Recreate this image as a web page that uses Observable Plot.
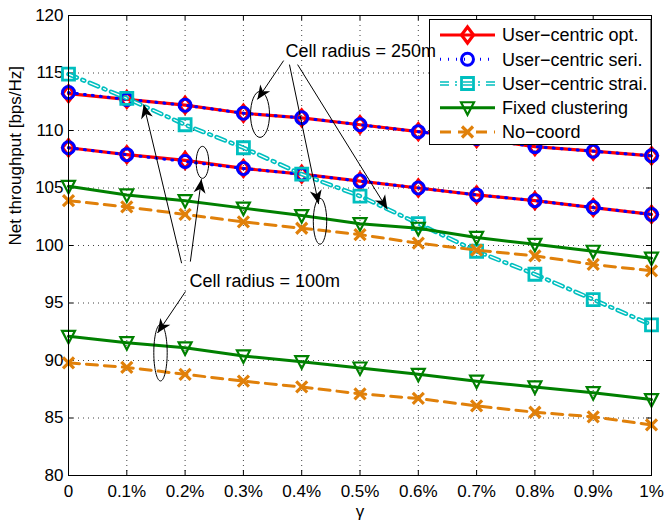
<!DOCTYPE html>
<html><head><meta charset="utf-8">
<script src="https://cdn.jsdelivr.net/npm/d3@7"></script>
<script src="https://cdn.jsdelivr.net/npm/@observablehq/plot@0.6"></script>
<style>body{margin:0;background:#fff} svg{display:block}</style>
</head><body><div id="chart"></div>
<script>
// ---------- data ----------
const gamma = [0, 0.1, 0.2, 0.3, 0.4, 0.5, 0.6, 0.7, 0.8, 0.9, 1];
const gammaLabels = ["0", "0.1%", "0.2%", "0.3%", "0.4%", "0.5%", "0.6%", "0.7%", "0.8%", "0.9%", "1%"];
const yTicks = [80, 85, 90, 95, 100, 105, 110, 115, 120];

const optR250   = [113.2, 112.7, 112.2, 111.5, 111.1, 110.5, 109.9, 109.3, 108.6, 108.2, 107.8];
const optR100   = [108.5, 107.9, 107.4, 106.7, 106.2, 105.6, 105.0, 104.4, 103.9, 103.3, 102.7];
const seriR250  = [113.3, 112.7, 112.2, 111.5, 111.1, 110.5, 109.9, 109.3, 108.6, 108.2, 107.8];
const seriR100  = [108.5, 107.9, 107.3, 106.7, 106.2, 105.6, 105.0, 104.4, 103.9, 103.3, 102.7];
const straiR250 = [114.9, 112.8, 110.5, 108.5, 106.2, 104.3, 101.9, 99.5, 97.5, 95.3, 93.1];
const fixedR250 = [105.15, 104.4, 103.9, 103.25, 102.6, 101.9, 101.5, 100.7, 100.1, 99.5, 98.9];
const fixedR100 = [92.1, 91.55, 91.1, 90.4, 89.9, 89.35, 88.8, 88.2, 87.7, 87.2, 86.6];
const nocoordR250 = [103.9, 103.35, 102.7, 102.05, 101.5, 100.95, 100.2, 99.6, 99.1, 98.35, 97.8];
const nocoordR100 = [89.8, 89.4, 88.8, 88.2, 87.7, 87.1, 86.7, 86.05, 85.5, 85.1, 84.4];

const legendLabels = ["User\u2212centric opt.", "User\u2212centric seri.", "User\u2212centric strai.", "Fixed clustering", "No\u2212coord"];

// annotations (data units)
const label250 = [{x: 0.372, y: 116.93, text: "Cell radius = 250m"}];
const label100 = [{x: 0.2075, y: 96.9, text: "Cell radius = 100m"}];
const arrows250 = [
  {x1: 0.369, y1: 116.08, x2: 0.324, y2: 112.7},
  {x1: 0.379, y1: 115.73, x2: 0.429, y2: 103.6},
  {x1: 0.393, y1: 115.73, x2: 0.547, y2: 103.15}
];
const arrows100 = [
  {x1: 0.194, y1: 98.46, x2: 0.129, y2: 112.27},
  {x1: 0.209, y1: 98.6, x2: 0.228, y2: 105.77},
  {x1: 0.2007, y1: 96.0, x2: 0.1527, y2: 92.39}
];
const ellipses = [
  {cx: 0.3285, cy: 111.40},
  {cx: 0.4314, cy: 102.11},
  {cx: 0.2298, cy: 107.23},
  {cx: 0.1578, cy: 90.68}
];

// ---------- table ----------
const rows = [];
function add(series, radius, vals) { vals.forEach((v, i) => rows.push({gamma: gamma[i], value: v, series, radius})); }
add("opt", 250, optR250); add("opt", 100, optR100);
add("seri", 250, seriR250); add("seri", 100, seriR100);
add("strai", 250, straiR250);
add("fixed", 250, fixedR250); add("fixed", 100, fixedR100);
add("nocoord", 250, nocoordR250); add("nocoord", 100, nocoordR100);
const S = k => rows.filter(d => d.series === k);

// ---------- symbols ----------
const symDiamond = {draw(c) { c.moveTo(0, -8); c.lineTo(6, 0); c.lineTo(0, 8); c.lineTo(-6, 0); c.closePath(); }};
const symSquare = {draw(c) { c.moveTo(-6, -6); c.lineTo(6, -6); c.lineTo(6, 6); c.lineTo(-6, 6); c.closePath(); }};
const symTriDown = {draw(c) { c.moveTo(-6.5, -5.5); c.lineTo(6.5, -5.5); c.lineTo(0, 7); c.closePath(); }};
const symTimes = {draw(c) { c.moveTo(-5.5, -5.5); c.lineTo(5.5, 5.5); c.moveTo(5.5, -5.5); c.lineTo(-5.5, 5.5); }};
const symCircle = {draw(c) { c.moveTo(6, 0); c.arc(0, 0, 6, 0, 2 * Math.PI); c.closePath(); }};
function ellipseSym(rx, ry) {
  const k = 0.5523;
  return {draw(c) {
    c.moveTo(rx, 0);
    c.bezierCurveTo(rx, ry * k, rx * k, ry, 0, ry);
    c.bezierCurveTo(-rx * k, ry, -rx, ry * k, -rx, 0);
    c.bezierCurveTo(-rx, -ry * k, -rx * k, -ry, 0, -ry);
    c.bezierCurveTo(rx * k, -ry, rx, -ry * k, rx, 0);
    c.closePath();
  }};
}
const ellipseSizes = [[9.5, 23], [6.7, 23], [6.3, 16], [6.7, 28.3]];

function stealth(color) {
  const ns = "http://www.w3.org/2000/svg";
  const m = document.createElementNS(ns, "marker");
  m.setAttribute("viewBox", "-15 -8 16 16");
  m.setAttribute("markerWidth", "16"); m.setAttribute("markerHeight", "16");
  m.setAttribute("markerUnits", "userSpaceOnUse");
  m.setAttribute("orient", "auto");
  m.setAttribute("refX", "0"); m.setAttribute("refY", "0");
  const p = document.createElementNS(ns, "path");
  p.setAttribute("d", "M0,0L-14,-6L-10,0L-14,6Z");
  p.setAttribute("fill", color); p.setAttribute("stroke", "none");
  m.appendChild(p);
  return m;
}

// ---------- styles ----------
const RED = "#ff0000", BLUE = "#0000ff", CYAN = "#00bfbf", GREEN = "#008000", ORANGE = "#e0800a";
const W = 664, H = 523, mL = 68, mR = 13, mT = 15, mB = 48;
const iW = W - mL - mR, iH = H - mT - mB;
const FONT = "'Liberation Sans', Arial, Helvetica, sans-serif";
const cyanDash = "9,6,2,6";

const plot = Plot.plot({
  width: W, height: H,
  marginLeft: mL, marginRight: mR, marginTop: mT, marginBottom: mB,
  style: {fontFamily: FONT, fontSize: "17px", color: "#000", background: "#fff", overflow: "visible"},
  x: {domain: [0, 1]},
  y: {domain: [80, 120]},
  marks: [
    Plot.gridX(gamma, {stroke: "#000", strokeOpacity: 0.75, strokeDasharray: "1,4"}),
    Plot.gridY(yTicks, {stroke: "#000", strokeOpacity: 0.75, strokeDasharray: "1,4"}),
    Plot.axisX(gamma, {tickSize: 0, tickPadding: 9, tickFormat: d => gammaLabels[gamma.indexOf(d)], label: null, fontSize: 17}),
    Plot.axisY(yTicks, {tickSize: 0, tickPadding: 5, label: null, fontSize: 17}),
    Plot.ruleX(gamma, {insetTop: iH - 5, stroke: "#000"}),
    Plot.ruleX(gamma, {insetBottom: iH - 5, stroke: "#000"}),
    Plot.ruleY(yTicks, {insetRight: iW - 5, stroke: "#000"}),
    Plot.ruleY(yTicks, {insetLeft: iW - 5, stroke: "#000"}),
    Plot.text(["\u03b3"], {frameAnchor: "bottom", dy: 41, fontSize: 17}),
    Plot.text(["Net throughput [bps/Hz]"], {frameAnchor: "left", dx: -53, rotate: -90, fontSize: 17}),

    // User-centric opt.
    Plot.line(S("opt"), {x: "gamma", y: "value", z: "radius", stroke: RED, strokeWidth: 3.2}),
    Plot.dot(S("opt"), {x: "gamma", y: "value", symbol: symDiamond, r: 8, stroke: RED, strokeWidth: 3.2, fill: "none"}),
    // User-centric seri.
    Plot.line(S("seri"), {x: "gamma", y: "value", z: "radius", stroke: BLUE, strokeWidth: 3, strokeDasharray: "1,7"}),
    Plot.dot(S("seri"), {x: "gamma", y: "value", symbol: symCircle, r: 6, stroke: BLUE, strokeWidth: 3, fill: "none"}),
    // User-centric strai.
    Plot.line(S("strai"), {x: "gamma", y: "value", z: "radius", stroke: CYAN, strokeWidth: 4.5, strokeDasharray: cyanDash}),
    Plot.line(S("strai"), {x: "gamma", y: "value", z: "radius", stroke: "#fff", strokeWidth: 1.3, strokeDasharray: cyanDash}),
    Plot.dot(S("strai"), {x: "gamma", y: "value", symbol: symSquare, r: 6, stroke: CYAN, strokeWidth: 2.8, fill: "none"}),
    // Fixed clustering
    Plot.line(S("fixed"), {x: "gamma", y: "value", z: "radius", stroke: GREEN, strokeWidth: 3}),
    Plot.dot(S("fixed"), {x: "gamma", y: "value", symbol: symTriDown, r: 7, stroke: GREEN, strokeWidth: 2.2, fill: "none"}),
    // No-coord
    Plot.line(S("nocoord"), {x: "gamma", y: "value", z: "radius", stroke: ORANGE, strokeWidth: 3, strokeDasharray: "11,7"}),
    Plot.dot(S("nocoord"), {x: "gamma", y: "value", symbol: symTimes, r: 6, stroke: ORANGE, strokeWidth: 3.2, fill: "none"}),

    Plot.frame({stroke: "#000", strokeWidth: 1}),

    // annotations
    ...ellipses.map((e, i) => Plot.dot([e], {x: "cx", y: "cy", symbol: ellipseSym(...ellipseSizes[i]), r: 10, stroke: "#000", strokeWidth: 1, fill: "none"})),
    Plot.link(arrows250, {x1: "x1", y1: "y1", x2: "x2", y2: "y2", stroke: "#000", strokeWidth: 1, markerEnd: stealth}),
    Plot.link(arrows100, {x1: "x1", y1: "y1", x2: "x2", y2: "y2", stroke: "#000", strokeWidth: 1, markerEnd: stealth}),
    Plot.text(label250, {x: "x", y: "y", text: "text", textAnchor: "start", fontSize: 18, fill: "#000"}),
    Plot.text(label100, {x: "x", y: "y", text: "text", textAnchor: "start", fontSize: 18, fill: "#000"})
  ]
});

// ---------- legend (inside plot, top-right) ----------
const svg = d3.select(plot);
const lg = svg.append("g").attr("font-family", FONT).attr("font-size", 18).attr("text-anchor", "start");
lg.append("rect").attr("x", 429.5).attr("y", 19.5).attr("width", 221.5).attr("height", 125)
  .attr("fill", "#fff").attr("stroke", "#000").attr("stroke-width", 1);
const legendStyles = [
  {stroke: RED, width: 3.2, dash: null, sym: symDiamond, sw: 3.2},
  {stroke: BLUE, width: 3, dash: "1,7", sym: symCircle, sw: 3},
  {stroke: CYAN, width: 4.5, dash: cyanDash, sym: symSquare, sw: 2.8, inner: true},
  {stroke: GREEN, width: 3, dash: null, sym: symTriDown, sw: 2.2},
  {stroke: ORANGE, width: 3, dash: "11,7", sym: symTimes, sw: 3.2}
];
legendLabels.forEach((label, i) => {
  const st = legendStyles[i];
  const y = 35 + i * 24.25;
  lg.append("line").attr("x1", 440).attr("x2", 495).attr("y1", y).attr("y2", y)
    .attr("stroke", st.stroke).attr("stroke-width", st.width).attr("stroke-dasharray", st.dash);
  if (st.inner) lg.append("line").attr("x1", 440).attr("x2", 495).attr("y1", y).attr("y2", y)
    .attr("stroke", "#fff").attr("stroke-width", 1.3).attr("stroke-dasharray", st.dash);
  lg.append("path").attr("d", d3.symbol(st.sym)()).attr("transform", `translate(467.5,${y})`)
    .attr("fill", "none").attr("stroke", st.stroke).attr("stroke-width", st.sw);
  lg.append("text").attr("x", 502).attr("y", y).attr("dy", "0.35em").attr("fill", "#000").text(label);
});
// annotation texts and arrows drawn over the legend (as in the reference)
svg.selectAll('g[aria-label="text"], g[aria-label="link"]').raise();

document.getElementById("chart").appendChild(plot);
</script>
</body></html>
